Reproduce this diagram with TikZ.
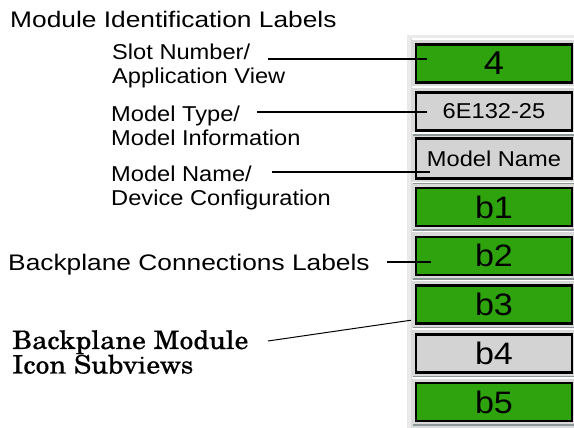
\documentclass[tikz,border=0pt]{standalone}
\usepackage{fontspec}
\setmainfont{Liberation Sans}
\newfontfamily\lblfont[FakeStretch=1.1]{Liberation Sans}
\newfontfamily\headfont[FakeStretch=1.17]{Liberation Sans}
\newfontfamily\boxfont[FakeStretch=1.1]{Liberation Sans}
\newfontfamily\serfont[FakeStretch=1.08, FakeBold=0.3]{TeX Gyre Schola}
\newcommand{\subviewfont}{\serfont\fontsize{25.5}{24.5}\selectfont}
\usetikzlibrary{positioning, calc}
\definecolor{SlotGreen}{HTML}{2FA30E}
\definecolor{CellGray}{HTML}{D3D3D3}
\definecolor{PanelGray}{HTML}{DADADA}
\definecolor{PanelLight}{HTML}{EAEAEA}
\definecolor{ShadeGray}{HTML}{8C9696}
\tikzset{
  modbox/.style={draw=black, line width=2.5pt, minimum width=156pt,
                 minimum height=38pt, inner sep=0pt,
                 font=\boxfont\fontsize{21.5}{22}\selectfont},
  bigbox/.style={modbox, font=\boxfont\fontsize{31}{32}\selectfont},
  callout/.style={anchor=north west, inner sep=0pt, align=left,
                  font=\lblfont\fontsize{21.5}{23.5}\selectfont},
  heading/.style={callout, font=\headfont\fontsize{22.5}{24}\selectfont},
  leader/.style={line width=1.5pt},
}

\begin{document}
\begin{tikzpicture}[x=1pt, y=-1pt]
    \useasboundingbox (0,0) rectangle (574,428);

    % Panel behind the module icon
    \fill[PanelLight] (407,35) rectangle (574,428);
    \fill[PanelGray] (411,38) rectangle (574,428);

    % Module identification boxes
    \node[bigbox, fill=SlotGreen, font=\boxfont\fontsize{33}{34}\selectfont] (slot) at (494,63.5) {4};
    \node[modbox, fill=CellGray] (mtype) at (494,111.5) {6E132-25};
    \node[modbox, fill=CellGray, minimum height=40pt] (mname) at (494,158.5) {Model Name};

    % Backplane connection boxes
    \foreach \i/\c in {1/SlotGreen, 2/SlotGreen, 3/SlotGreen, 4/CellGray, 5/SlotGreen}
        \node[bigbox, fill=\c] (b\i) at (494,{207+48.75*(\i-1)}) {b\i};

    % Cell edges
    \foreach \n in {slot, mtype, mname, b1, b2, b3, b4, b5} {
        \draw[white, line width=1.5pt] ([xshift=-3pt, yshift=4pt]\n.north west) -- ([xshift=3pt, yshift=4pt]\n.north east);
        \draw[ShadeGray, line width=2pt] ([xshift=-2pt, yshift=-3pt]\n.south west) -- ([xshift=3pt, yshift=-3pt]\n.south east);
    }

    % Labels
    \node[heading] (title) at (10,11) {Module Identification Labels};
    \node[callout] (lblslot) at (112,44) {Slot Number/\\Application View};
    \node[callout] (lbltype) at (111,106) {Model Type/\\Model Information};
    \node[callout] (lblname) at (111,166) {Model Name/\\Device Configuration};
    \node[heading] (lblconn) at (8,254) {Backplane Connections Labels};
    \node[callout, font=\subviewfont] (lblsub) at (12,330) {Backplane Module\\Icon Subviews};

    % Leader lines
    \coordinate (pslot) at ($(lblslot.north west)+(156,15)$);
    \coordinate (ptype) at ($(lbltype.north west)+(146,6)$);
    \coordinate (pname) at ($(lblname.north west)+(161,6)$);
    \coordinate (pconn) at ($(lblconn.north west)+(379,8)$);
    \coordinate (psub) at ($(lblsub.north west)+(256,11)$);
    \draw[leader] (pslot) -- ([xshift=12pt]pslot -| slot.west);
    \draw[leader] (ptype) -- ([xshift=12pt]ptype -| mtype.west);
    \draw[leader] (pname) -- ([xshift=15pt]pname -| mname.west);
    \draw[leader] (pconn) -- ([xshift=16pt]pconn -| b2.west);
    \draw[line width=1pt] (psub) -- ($(b3.south west)+(-4,-4.5)$);
\end{tikzpicture}
\end{document}
